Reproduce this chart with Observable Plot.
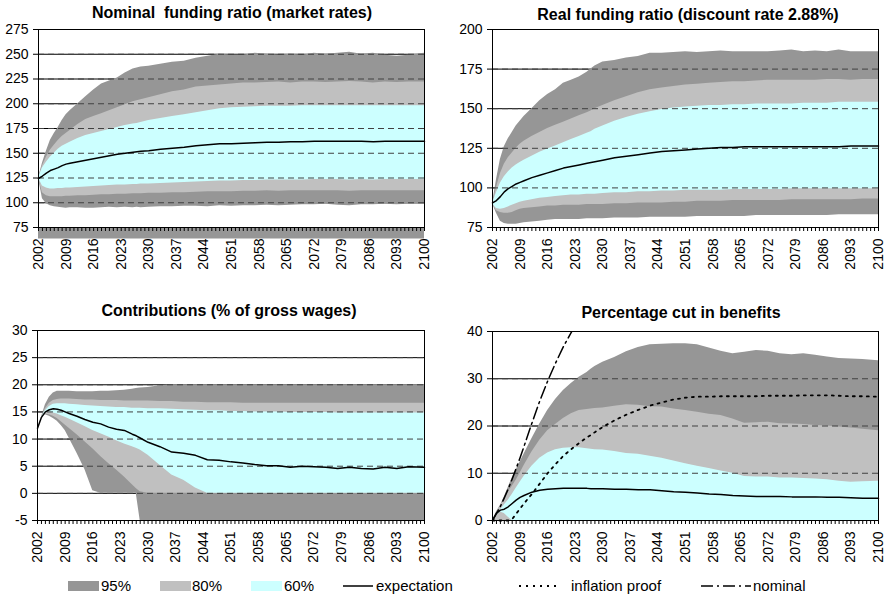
<!DOCTYPE html>
<html>
<head>
<meta charset="utf-8">
<script src="https://cdn.jsdelivr.net/npm/d3@7"></script>
<script src="https://cdn.jsdelivr.net/npm/@observablehq/plot@0.6"></script>
<style>
  body { margin: 0; background: #fff; }
  #wrap { position: relative; width: 888px; height: 598px; background: #fff; overflow: hidden;
          font-family: "Liberation Sans", Arial, sans-serif; color: #000; }
  .panel { position: absolute; }
  .title { position: absolute; width: 444px; text-align: center; font-weight: bold; font-size: 16px;
           line-height: 18px; white-space: pre; }
  #legend { position: absolute; left: 0; top: 574px; }
</style>
</head>
<body>
<div id="wrap">
  <div class="title" style="left:10px; top:4px;">Nominal  funding ratio (market rates)</div>
  <div class="title" style="left:466px; top:6px;">Real funding ratio (discount rate 2.88%)</div>
  <div class="title" style="left:7px; top:302px;">Contributions (% of gross wages)</div>
  <div class="title" style="left:459px; top:304px;">Percentage cut in benefits</div>
  <div class="panel" id="p1" style="left:0; top:0;"></div>
  <div class="panel" id="p2" style="left:444px; top:0;"></div>
  <div class="panel" id="p3" style="left:0; top:300px;"></div>
  <div class="panel" id="p4" style="left:444px; top:300px;"></div>
  <svg id="legend" width="888" height="24" font-family="Liberation Sans, Arial, sans-serif" font-size="15">
    <rect x="68" y="7" width="31" height="10" fill="#969696"></rect>
    <text x="101" y="17">95%</text>
    <rect x="160" y="7" width="31" height="10" fill="#c0c0c0"></rect>
    <text x="192" y="17">80%</text>
    <rect x="251" y="7" width="31" height="10" fill="#ccffff"></rect>
    <text x="284" y="17">60%</text>
    <line x1="343" x2="373" y1="12" y2="12" stroke="#000" stroke-width="1.5"></line>
    <text x="376" y="17">expectation</text>
    <line x1="519" x2="556" y1="12" y2="12" stroke="#000" stroke-width="1.8" stroke-dasharray="2,5"></line>
    <text x="571" y="17">inflation proof</text>
    <line x1="701" x2="751" y1="12" y2="12" stroke="#000" stroke-width="1.5" stroke-dasharray="12,4,2,4"></line>
    <text x="753" y="17">nominal</text>
  </svg>
</div>
<script>
// ---------- shared x data ----------
const years = [2002,2003,2004,2005,2006,2007,2008,2009,2010,2012,2014,2016,2018,2020,2022,2024,2026,2027,2028,2030,2033,2036,2039,2042,2045,2048,2051,2054,2057,2060,2063,2066,2069,2072,2075,2078,2081,2084,2087,2090,2093,2096,2100];
const yearLabels = [2002,2009,2016,2023,2030,2037,2044,2051,2058,2065,2072,2079,2086,2093,2100];

// ---------- Panel 1: nominal funding ratio ----------
const nfrTicks = [75,100,125,150,175,200,225,250,275];
const nfr95hi = [125,140,152,163,170,176,183,189,193,200,207,214,220,223,226,231,235,236,237,238,240,242,243,246,248,250,249,249,251,250,249,250,249,251,250,251,252,250,251,249,248,249,251];
const nfr95lo = [125,104,99,97,96,95.5,95,94.5,95,95,94.5,94.5,95,95.5,95,95.5,95,95.5,95,95.5,96,96,96.5,96.5,96,97,96.5,97,97,97.5,97,97.5,98,98,98.5,97.5,97,98,98,98.5,98,98.5,98.5];
const nfr80hi = [125,137,146,153,158,163,167,170,173,179,184,187,190,193,196,199,202,203,204,206,209,212,214,217,218,219,220,221,221,221.5,222,221,222,222,221.5,222,222.5,222,221,222,221.5,222,222];
const nfr80lo = [125,110,107,106,106,106,106,106.5,106.5,107,107,107.5,108,108,108.5,108.5,109,109,109,109.5,109.5,110,110,110.5,111,111,111,111.5,111.5,112,111.5,112,112,112,112,112,111.5,112,112,112,112,112,112];
const nfr60hi = [125,135,141,146,150,154,157,159,161,165,168,170,172,174,176,178,179.5,180,181,183,185,187,189,191,193,195,196,196.5,197,197.5,197.5,197.5,198,198,198,198,198,198,198,198,198,198,198];
const nfr60lo = [125,117,115,114,114,114.5,114.5,115,115,115.5,116,116.5,117,117.5,118,118,118.5,118.5,119,119,119.5,120,120.5,121,121.5,122,122,122.5,122.5,123,123,123,123,123.5,123.5,123.5,123,123.5,123,123.5,123.5,123.5,123.5];
const nfrExp = [124.5,127,130,132.5,134,135.5,137.5,139,140,141.5,143,144.5,146,147.5,149,150,151,151.5,152,152.5,154,155,156,157.5,158.5,159.5,159.5,160,160.5,161,161,161.5,161.5,162,162,162,162,162,161.5,162,162,162,162];

// ---------- Panel 2: real funding ratio ----------
const rfrTicks = [75,100,125,150,175,200];
const rfr95hi = [90,105,118,126,131,135,139,142,145,150,155,159,162,166,168,170,173,175,177,179.5,180.5,182,183,185,185,185.5,186,185.5,186,186.5,186,186,186,186,186.5,187,186,186.5,186,187,186,186,186];
const rfr95lo = [90,84,79,77.5,77,77,77,77.5,78,78.5,79,79.5,80,80,80,80,80.5,80.5,80.5,80.5,81,81,81,81.5,81.5,81.5,81.5,82,82,82,82,82,82.5,82.5,82.5,82.5,82.5,82.5,82.5,83,83,83,83];
const rfr80hi = [90,100,109,115,119,122,125,127.5,129.5,132.5,135,137.5,139.5,141.5,143.5,145.5,147.5,148.5,150,152,155,157.5,160,162,163,164,165,165.5,166,166.5,167,167,167.5,168,168,168,168,168,168.5,168.5,168,168.5,168.5];
const rfr80lo = [90,85.5,84.5,84,84,84.5,85.5,86.5,87,87.5,88,88.5,88.5,89,89,89,89.5,89.5,89.5,89.5,90,90,90.5,90.5,90.5,91,91,91.5,91.5,91.5,92,92,92,92,92,92.5,92.5,92.5,92.5,92.5,92.5,93,93];
const rfr60hi = [90,97,103,107,110,112.5,114.5,116,117.5,120,122.5,124.5,126.5,128.5,130.5,132.5,134.5,135.5,137,139,142,144.5,146.5,148,149.5,150.5,151,151.5,152,152,152.5,152.5,153,153,153,153,153.5,153.5,153.5,154,154,154,154];
const rfr60lo = [90,87,86.5,87,88,89,90,91,91.5,92.5,93.5,94,94.5,95,95.5,95.5,96,96,96,96.5,97,97,97.5,97.5,98,98,98.5,98.5,98.5,98.5,99,99,99,99,99,99.5,99.5,99.5,99.5,99.5,99.5,99.5,99.5];
const rfrExp = [90.5,92,94.5,97.5,99.5,101,102.5,103.5,104.5,106.5,108,109.5,111,112.5,113.5,114.5,115.5,116,116.5,117.5,119,120,121,122,123,123.5,124,124.5,125,125.5,125.5,126,126,126,126,126,126,126,126,126,126.5,126.5,126.5];

// ---------- Panel 3: contributions ----------
const conTicks = [-5,0,5,10,15,20,25,30];
const con95hi = [12,14,16.3,17.7,18.5,18.8,18.8,18.8,18.8,18.7,18.7,18.7,18.8,18.8,18.9,19,19.2,19.3,19.4,19.5,19.8,20,20,20,20,20,20,20,20,20,20,20,20,20,20,20,20,20,20,20,20,20,20];
const con95lo = [12,14,14.5,14.2,13.8,13.3,12.5,11.6,10.2,7.4,4.4,0.5,0,0,0,0,0,0,-5,-5,-5,-5,-5,-5,-5,-5,-5,-5,-5,-5,-5,-5,-5,-5,-5,-5,-5,-5,-5,-5,-5,-5,-5];
const con80hi = [12,14,15.6,16.6,17.1,17.3,17.4,17.4,17.4,17.3,17.2,17.2,17.1,17.1,17.1,17,17,17,17,17,16.9,16.9,16.8,16.8,16.7,16.7,16.7,16.6,16.6,16.6,16.6,16.6,16.6,16.6,16.6,16.6,16.6,16.6,16.6,16.6,16.6,16.6,16.6];
const con80lo = [12,14,14.6,14.5,14.2,13.8,13.2,12.6,12,10.8,9.5,8.2,6.8,5.5,4.3,3,1.6,0.9,0.3,0,0,0,0,0,0,0,0,0,0,0,0,0,0,0,0,0,0,0,0,0,0,0,0];
const con60hi = [12,14,15.2,16,16.4,16.5,16.5,16.5,16.4,16.3,16.2,16.1,16,15.9,15.8,15.8,15.7,15.7,15.7,15.6,15.6,15.5,15.4,15.3,15.2,15.2,15.1,15.1,15,15,15,14.9,14.9,14.9,14.9,14.8,14.8,14.8,14.8,14.8,14.8,14.8,14.8];
const con60lo = [12,14,14.8,15,14.8,14.6,14.3,14,13.7,13,12.3,11.6,11,10.4,9.7,9.1,8.6,8.3,8,7,5.2,3.4,2.4,1,0,0,0,0,0,0,0,0,0,0,0,0,0,0,0,0,0,0,0];
const conExp = [12,14,15,15.4,15.6,15.5,15.3,15,14.7,14.2,13.6,13.1,12.8,12.2,11.8,11.6,10.9,10.6,10.2,9.4,8.6,7.6,7.4,7,6.2,6.1,5.8,5.6,5.3,5.1,5.1,4.8,5,4.9,4.8,4.6,4.8,4.6,4.5,4.8,4.6,4.9,4.8];

// ---------- Panel 4: percentage cut in benefits ----------
const cutTicks = [0,10,20,30,40];
const cut95hi = [0,1.8,3.2,5,7,9,10.7,12.4,14,17.3,20.4,23.3,25.6,27.5,29,30.3,31.3,32,32.6,33.5,34.5,35.7,36.6,37.2,37.3,37.4,37.4,37.2,36.5,35.8,35.3,35.6,36,35.8,35.3,35.1,35.3,35,34.6,34.3,34.2,34.1,33.8];
const cut80hi = [0,1.6,3,4.5,6,7.2,8.5,10,11.6,14.5,17,19,20.3,21.6,22.6,23.3,23.5,23.6,23.7,23.8,24.2,24.5,24.4,24.1,24,23.6,23.3,22.9,22.5,22.2,21.5,20.6,20.7,20.8,20.5,20.4,20.3,20.1,20,19.8,19.6,19.3,19];
const cut60hi = [0,1.2,2.2,3.3,4.3,5.5,6.8,8.1,9.3,11.5,13.2,14.3,15,15.3,15.4,15.4,15.2,15.1,15,14.9,14.6,14.2,14,13.6,13.2,12.6,12,11.5,11,10.5,10,9.3,9.2,9.2,9,9,8.9,8.8,8.6,8.3,8.1,8.2,8.3];
const cut60lo = [0,1,1.8,1.5,0.7,0,0,0,0,0,0,0,0,0,0,0,0,0,0,0,0,0,0,0,0,0,0,0,0,0,0,0,0,0,0,0,0,0,0,0,0,0,0];
const cutExp = [0,1.5,2.2,2.4,2.9,3.6,4.3,4.9,5.3,6,6.4,6.6,6.7,6.8,6.8,6.8,6.8,6.7,6.7,6.7,6.6,6.6,6.5,6.5,6.3,6.1,6,5.8,5.6,5.5,5.3,5.2,5.1,5.1,5.1,5,5,5,4.9,4.9,4.8,4.7,4.7];
const cutInflation = [0,0,0,0,0,0.3,1.4,2.5,3.6,5.6,7.8,10,11.9,13.7,15.1,16.4,17.6,18.1,18.7,19.8,21.2,22.4,23.4,24.3,25,25.6,26,26.2,26.2,26.3,26.3,26.3,26.3,26.4,26.4,26.4,26.5,26.5,26.5,26.4,26.3,26.3,26.2];
const nominalYears = [2002,2003,2004,2005,2006,2007,2008,2009,2010,2012,2014,2016,2018,2020,2022,2024];
const cutNominal = [0,1.5,3,4.8,6.7,8.8,11,13.3,15.7,20.6,25.3,29.5,33.3,36.8,39.8,42.5];

// ---------- drawing ----------
const C95 = "#969696", C80 = "#c0c0c0", C60 = "#ccffff";
const FONT = "'Liberation Sans', Arial, sans-serif";

function rowsOf(s) {
  return years.map((year, i) => ({
    year,
    lo95: s.lo95 ? s.lo95[i] : 0, hi95: s.hi95[i],
    lo80: s.lo80 ? s.lo80[i] : 0, hi80: s.hi80[i],
    lo60: s.lo60 ? s.lo60[i] : 0, hi60: s.hi60[i],
    exp: s.exp[i], infl: s.infl ? s.infl[i] : null
  }));
}

function panel(el, cfg) {
  const rows = rowsOf(cfg.series);
  const [ymin, ymax] = cfg.domain;
  const inner = cfg.ticks.filter(t => t > ymin && t < ymax);
  const marks = [
    Plot.ruleY(inner, {stroke: "#000", strokeWidth: 1}),
    Plot.areaY(rows, {x: "year", y1: "lo95", y2: "hi95", fill: C95}),
    Plot.areaY(rows, {x: "year", y1: "lo80", y2: "hi80", fill: C80}),
    Plot.areaY(rows, {x: "year", y1: "lo60", y2: "hi60", fill: C60}),
    Plot.ruleY(inner, {stroke: "#404040", strokeWidth: 1, strokeDasharray: "6,4"}),
  ];
  if (cfg.extra) marks.push(...cfg.extra(rows));
  marks.push(Plot.lineY(rows, {x: "year", y: "exp", stroke: "#000", strokeWidth: 1.5}));
  if (cfg.strip) marks.push(Plot.ruleY([ymin], {stroke: C95, strokeWidth: 11, dy: 5.5}));
  marks.push(
    Plot.frame({stroke: "#000"}),
    Plot.axisY(cfg.ticks, {tickSize: 5, tickPadding: 5, tickFormat: d => String(d), fontSize: 14}),
    Plot.axisX(d3.range(2002, 2101), {tickSize: 4, tickFormat: () => ""}),
    Plot.axisX(yearLabels, {tickSize: 0, tickPadding: 11, tickRotate: -90, tickFormat: d => String(d), fontSize: 14})
  );
  const chart = Plot.plot({
    width: 444, height: cfg.height,
    marginLeft: cfg.ml, marginRight: cfg.mr, marginTop: cfg.mt, marginBottom: cfg.mb,
    x: {type: "linear", domain: [2002, 2100], label: null},
    y: {domain: cfg.domain, label: null},
    style: {fontFamily: FONT, fontSize: "14px", color: "#000", background: "transparent", overflow: "visible"},
    marks
  });
  document.getElementById(el).appendChild(chart);
}

panel("p1", {
  height: 300, ml: 38, mr: 20, mt: 29, mb: 73, domain: [75, 275], ticks: nfrTicks, strip: true,
  series: {lo95: nfr95lo, hi95: nfr95hi, lo80: nfr80lo, hi80: nfr80hi, lo60: nfr60lo, hi60: nfr60hi, exp: nfrExp}
});
panel("p2", {
  height: 300, ml: 48, mr: 10, mt: 29, mb: 73, domain: [75, 200], ticks: rfrTicks,
  series: {lo95: rfr95lo, hi95: rfr95hi, lo80: rfr80lo, hi80: rfr80hi, lo60: rfr60lo, hi60: rfr60hi, exp: rfrExp}
});
panel("p3", {
  height: 270, ml: 37, mr: 20, mt: 30, mb: 50, domain: [-5, 30], ticks: conTicks,
  series: {lo95: con95lo, hi95: con95hi, lo80: con80lo, hi80: con80hi, lo60: con60lo, hi60: con60hi, exp: conExp}
});
const nominalRows = nominalYears.map((year, i) => ({year, v: cutNominal[i]}));
panel("p4", {
  height: 270, ml: 48, mr: 10, mt: 31, mb: 50, domain: [0, 40], ticks: cutTicks,
  series: {hi95: cut95hi, hi80: cut80hi, lo60: cut60lo, hi60: cut60hi, exp: cutExp, infl: cutInflation},
  extra: rows => [
    Plot.lineY(rows, {x: "year", y: "infl", stroke: "#000", strokeWidth: 1.8, strokeDasharray: "2,5"}),
    Plot.lineY(nominalRows, {x: "year", y: "v", stroke: "#000", strokeWidth: 1.5, strokeDasharray: "12,4,2,4", clip: true})
  ]
});
</script>
</body>
</html>
